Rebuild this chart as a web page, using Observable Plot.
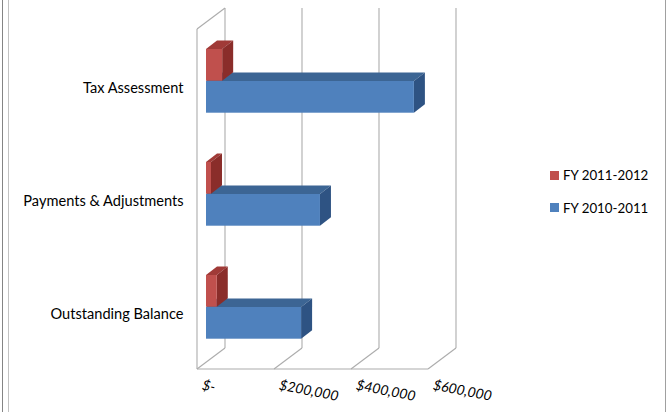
<!DOCTYPE html>
<html><head><meta charset="utf-8">
<script src="https://cdn.jsdelivr.net/npm/d3@7"></script>
<script src="https://cdn.jsdelivr.net/npm/@observablehq/plot@0.6"></script>
<style>
body{margin:0;background:#fff;}
#wrap{position:relative;width:667px;height:412px;overflow:hidden;font-family:Lato,sans-serif;background:#fff;}
.vline{position:absolute;top:0;height:412px;width:1px;}
.leg{position:absolute;left:550px;display:flex;align-items:center;font-size:13.3px;color:#000;white-space:nowrap;}
.sw{width:9px;height:9px;margin-right:4px;}
</style></head>
<body>
<div id="wrap"></div>
<script>
// ---- data ----
const categories = ["Tax Assessment", "Payments & Adjustments", "Outstanding Balance"];
const seriesNames = ["FY 2011-2012", "FY 2010-2011"];
const seriesColors = ["#C0504D", "#4F81BD"];
const fy2011_2012 = [42000, 13000, 28000];
const fy2010_2011 = [540000, 296000, 247000];
const xTicks = [0, 200000, 400000, 600000];
const xTickLabels = ["$-", "$200,000", "$400,000", "$600,000"];

// ---- geometry (pixel offsets of the pseudo-3D projection) ----
const FRONT = [-9, 7], BACK = [19, -14], BAR = [11, -8.5];
const INSET_RED = [26, 55.3], INSET_BLUE = [58, 23.3];

const redRows = categories.map((c, i) => ({category: c, value: fy2011_2012[i]}));
const blueRows = categories.map((c, i) => ({category: c, value: fy2010_2011[i]}));

function walls(index, scales, values, dims) {
  const x = scales.x;
  const top = dims.marginTop, bottom = dims.height - dims.marginBottom;
  const g = d3.create("svg:g").attr("stroke", "#acacac").attr("stroke-width", 1.1).attr("fill", "none");
  const seg = (x1, y1, x2, y2) => g.append("line").attr("x1", x1).attr("y1", y1).attr("x2", x2).attr("y2", y2);
  for (const t of xTicks) {
    seg(x(t) + BACK[0], top + BACK[1], x(t) + BACK[0], bottom + BACK[1]);
    seg(x(t) + FRONT[0], bottom + FRONT[1], x(t) + BACK[0], bottom + BACK[1]);
  }
  const x0 = x(xTicks[0]), xN = x(xTicks[xTicks.length - 1]);
  seg(x0 + FRONT[0], top + FRONT[1], x0 + FRONT[0], bottom + FRONT[1]);
  seg(x0 + FRONT[0], top + FRONT[1], x0 + BACK[0], top + BACK[1]);
  seg(x0 + FRONT[0], bottom + FRONT[1], xN + FRONT[0], bottom + FRONT[1]);
  return g.node();
}

function faces(rows, inset, topColor, sideColor) {
  return (index, scales) => {
    const {x, y} = scales;
    const bw = y.bandwidth();
    const g = d3.create("svg:g");
    const [dx, dy] = BAR;
    for (const r of rows) {
      const x0 = x(0), x1 = x(r.value);
      const y0 = y(r.category) + inset[0], y1 = y(r.category) + bw - inset[1];
      g.append("polygon").attr("fill", topColor)
        .attr("points", [[x0, y0], [x1, y0], [x1 + dx, y0 + dy], [x0 + dx, y0 + dy]].map(p => p.join(",")).join(" "));
      g.append("polygon").attr("fill", sideColor)
        .attr("points", [[x1, y0], [x1, y1], [x1 + dx, y1 + dy], [x1 + dx, y0 + dy]].map(p => p.join(",")).join(" "));
    }
    return g.node();
  };
}

const plot = Plot.plot({
  width: 667,
  height: 412,
  marginLeft: 206,
  marginRight: 230,
  marginTop: 22,
  marginBottom: 50,
  style: {fontFamily: "Lato, sans-serif", background: "transparent", overflow: "visible", color: "#000"},
  x: {domain: [0, 600000], axis: null},
  y: {type: "band", domain: categories, padding: 0, axis: null},
  marks: [
    walls,
    faces(blueRows, INSET_BLUE, "#3C6594", "#2E5383"),
    Plot.barX(blueRows, {x1: 0, x2: "value", y: "category", fill: seriesColors[1], insetTop: INSET_BLUE[0], insetBottom: INSET_BLUE[1]}),
    faces(redRows, INSET_RED, "#A03A37", "#8A2D2A"),
    Plot.barX(redRows, {x1: 0, x2: "value", y: "category", fill: seriesColors[0], insetTop: INSET_RED[0], insetBottom: INSET_RED[1]}),
    Plot.text(categories, {y: d => d, frameAnchor: "left", textAnchor: "end", dx: -23, dy: 8, fontSize: 14.6, fill: "#000"}),
    Plot.text(xTicks, {x: d => d, text: (d, i) => xTickLabels[i], frameAnchor: "bottom", textAnchor: "start", rotate: 11, dx: -5, dy: 27, fontSize: 14, fontStyle: "italic", fill: "#000"})
  ]
});

const wrap = document.getElementById("wrap");
wrap.appendChild(plot);
plot.style.position = "absolute";
plot.style.left = "0px";
plot.style.top = "0px";

// frame lines
[[2, "#858585"], [8, "#c2c2c2"], [665, "#a0a0a0"]].forEach(([l, c]) => {
  const d = document.createElement("div");
  d.className = "vline"; d.style.left = l + "px"; d.style.background = c;
  wrap.appendChild(d);
});

// legend
seriesNames.forEach((name, i) => {
  const item = document.createElement("div");
  item.className = "leg";
  item.style.top = (166 + i * 32.5) + "px";
  item.style.height = "18px";
  const sw = document.createElement("div");
  sw.className = "sw"; sw.style.background = seriesColors[i];
  const tx = document.createElement("span");
  tx.textContent = name;
  item.appendChild(sw); item.appendChild(tx);
  wrap.appendChild(item);
});
</script>
</body></html>
